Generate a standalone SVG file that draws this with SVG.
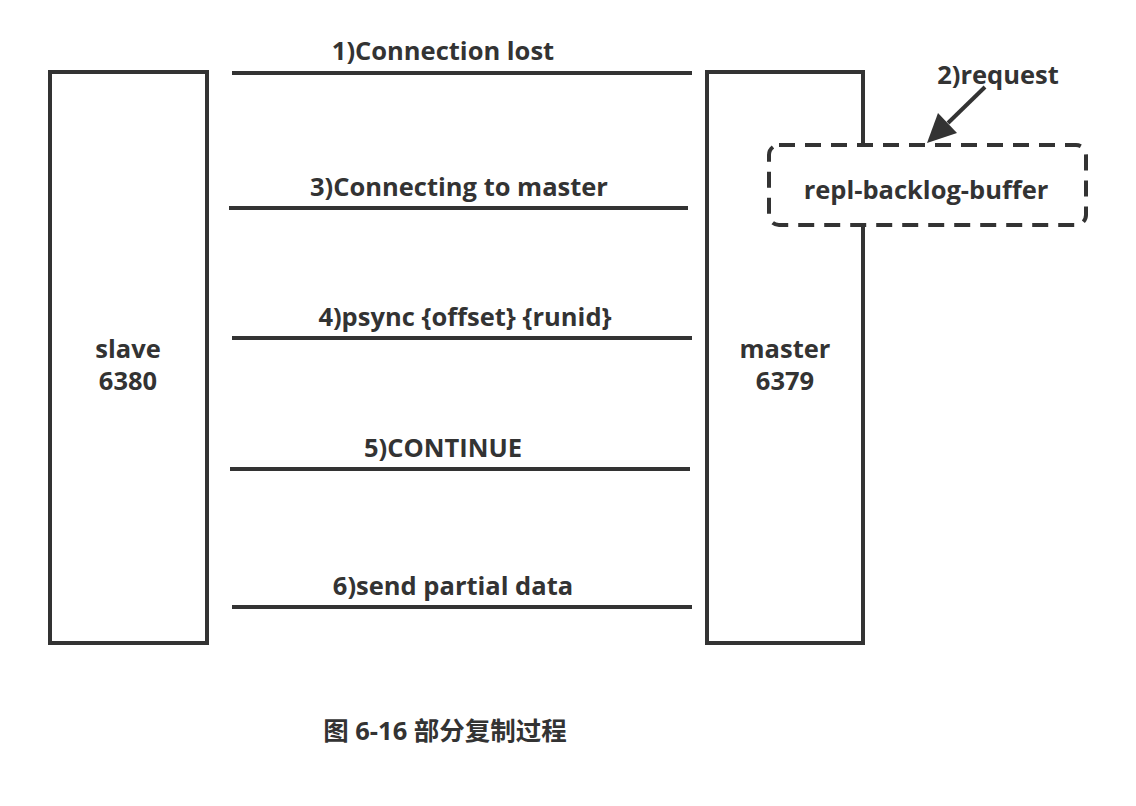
<svg xmlns="http://www.w3.org/2000/svg" width="1136" height="806" viewBox="0 0 1136 806">
<style>
.box{fill:#fff;stroke:#333;stroke-width:4}
.dash{fill:#fff;stroke:#333;stroke-width:4;stroke-dasharray:16 10}
.ln{stroke:#333;stroke-width:4;fill:none}
text{font-family:"Open Sans","Noto Sans CJK SC",sans-serif;font-weight:bold;font-size:25.5px;fill:#333;text-anchor:middle}
</style>
<rect width="1136" height="806" fill="#fff"/>
<g id="slave">
<rect class="box" x="50" y="72" width="157" height="571"/>
<text x="128" y="358">slave</text>
<text x="128" y="390">6380</text>
</g>
<g id="master">
<rect class="box" x="707" y="72" width="156" height="571"/>
<text x="785" y="358">master</text>
<text x="785" y="390">6379</text>
</g>
<g id="buffer">
<rect class="dash" x="769" y="145" width="317" height="80" rx="10"/>
<text x="926" y="199">repl-backlog-buffer</text>
</g>
<g id="connectors">
<line class="ln" x1="232" y1="73" x2="692" y2="73"/>
<line class="ln" x1="229" y1="208" x2="688" y2="208"/>
<line class="ln" x1="232" y1="338" x2="692" y2="338"/>
<line class="ln" x1="230" y1="469" x2="690" y2="469"/>
<line class="ln" x1="232" y1="607" x2="692" y2="607"/>
<line class="ln" x1="985" y1="87" x2="948" y2="123" stroke-width="5"/>
<polygon points="927,143 957,133 938,113" fill="#333"/>
</g>
<g id="labels">
<text x="443" y="60">1)Connection lost</text>
<text x="998" y="84">2)request</text>
<text x="459" y="196">3)Connecting to master</text>
<text x="465" y="326">4)psync {offset} {runid}</text>
<text x="443" y="457">5)CONTINUE</text>
<text x="453" y="595">6)send partial data</text>
<text x="445" y="740">图 6-16 部分复制过程</text>
</g>
</svg>
